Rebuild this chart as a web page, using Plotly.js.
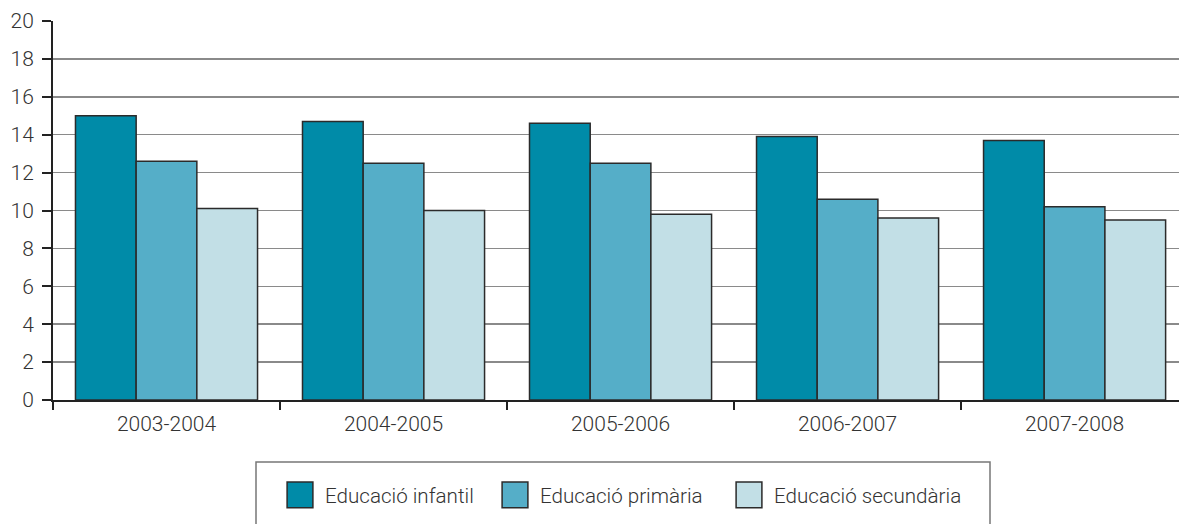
<!DOCTYPE html>
<html>
<head>
<meta charset="utf-8">
<script src="https://cdn.plot.ly/plotly-3.0.1.min.js"></script>
<style>
html,body{margin:0;padding:0;background:#fff;overflow:hidden;}
#chart{width:1179px;height:524px;}
.legend .legendpoints path{transform:translate(15px,0) scale(2.15);stroke-width:0.7px !important;}
</style>
</head>
<body>
<div id="chart"></div>
<script>
var categories = ["2003-2004", "2004-2005", "2005-2006", "2006-2007", "2007-2008"];
var seriesNames = ["Educació infantil", "Educació primària", "Educació secundària"];
var infantil = [15.0, 14.7, 14.6, 13.9, 13.7];
var primaria = [12.6, 12.5, 12.5, 10.6, 10.2];
var secundaria = [10.1, 10.0, 9.8, 9.6, 9.5];
var yTicks = [0, 2, 4, 6, 8, 10, 12, 14, 16, 18, 20];

// styles
var colors = ["#008BA8", "#55AEC8", "#C2DFE6"];
var legendWidths = [170, 189, 200];
var values = [infantil, primaria, secundaria];

var traces = values.map(function (v, i) {
  return {
    type: "bar",
    x: categories,
    y: v,
    name: seriesNames[i],
    legendwidth: legendWidths[i],
    marker: { color: colors[i], line: { color: "#2b2b2b", width: 1.5 } },
    hoverinfo: "none"
  };
});

var tickFont = { family: "Roboto, Liberation Sans, sans-serif", size: 21, color: "#333", weight: 300 };
var legendFont = { family: "Roboto, Liberation Sans, sans-serif", size: 20.6, color: "#333", weight: 300 };

var layout = {
  width: 1179,
  height: 524,
  margin: { l: 53, r: 0, t: 21, b: 124, pad: 0 },
  paper_bgcolor: "#fff",
  plot_bgcolor: "#fff",
  font: tickFont,
  barmode: "group",
  bargap: 0.198,
  bargroupgap: 0,
  showlegend: true,
  legend: {
    orientation: "h",
    xref: "container",
    yref: "container",
    x: 285 / 1179,
    xanchor: "left",
    y: 1 - 495 / 524,
    yanchor: "middle",
    font: legendFont,
    bgcolor: "rgba(0,0,0,0)",
    borderwidth: 0,
    traceorder: "normal"
  },
  xaxis: {
    type: "category",
    range: [-0.5, 4.46],
    tickson: "boundaries",
    ticks: "outside",
    ticklen: 8,
    tickwidth: 2,
    tickcolor: "#222",
    showline: true,
    linecolor: "#222",
    linewidth: 2,
    showgrid: false,
    zeroline: false,
    tickfont: tickFont,
    ticklabelstandoff: 4,
    fixedrange: true
  },
  yaxis: {
    range: [0, 20],
    tickvals: yTicks,
    ticktext: yTicks.map(String),
    ticks: "outside",
    ticklen: 9,
    tickwidth: 2,
    tickcolor: "#222",
    showline: true,
    linecolor: "#222",
    linewidth: 2,
    showgrid: true,
    gridcolor: "#8a8a8a",
    gridwidth: 1.5,
    zeroline: false,
    tickfont: tickFont,
    ticklabelstandoff: 4,
    fixedrange: true
  },
  shapes: [{
    type: "rect",
    xref: "paper",
    yref: "paper",
    x0: (256 - 53) / 1126,
    x1: (990 - 53) / 1126,
    y0: (400 - 462) / 379,
    y1: (400 - 600) / 379,
    line: { color: "#777", width: 1.5 },
    fillcolor: "rgba(0,0,0,0)",
    layer: "below"
  }]
};

Plotly.newPlot("chart", traces, layout, { displayModeBar: false, staticPlot: true });
</script>
</body>
</html>
